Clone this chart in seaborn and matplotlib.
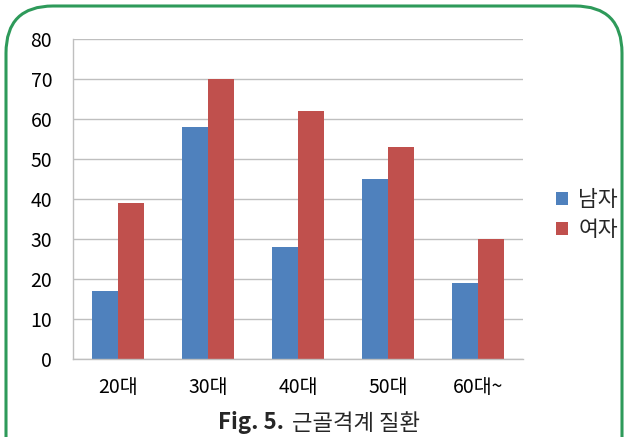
import matplotlib
matplotlib.use("Agg")
import matplotlib.pyplot as plt
import seaborn as sns
import pandas as pd
from matplotlib.patches import FancyBboxPatch

ages = ["20대", "30대", "40대", "50대", "60대~"]
male = [17, 58, 28, 45, 19]
female = [39, 70, 62, 53, 30]
series_names = ["남자", "여자"]
colors = ["#4F81BD", "#C0504D"]
yticks = [0, 10, 20, 30, 40, 50, 60, 70, 80]

df = pd.DataFrame({
    "age": ages * 2,
    "value": male + female,
    "sex": [series_names[0]] * len(ages) + [series_names[1]] * len(ages),
})

sns.set_theme(style="white")
plt.rcParams["font.family"] = ["Noto Sans CJK KR", "DejaVu Sans"]

W, H = 627, 437
fig = plt.figure(figsize=(W / 100, H / 100), dpi=100)
ax = fig.add_axes([73 / W, 1 - 359 / H, 450 / W, 320 / H])

sns.barplot(data=df, x="age", y="value", hue="sex", palette=colors,
            width=0.58, saturation=1, ax=ax, edgecolor="none")

ax.set_ylim(0, 80)
ax.set_yticks(yticks)
ax.set_xlim(-0.5, len(ages) - 0.5)
ax.yaxis.grid(True, color="#BFBFBF", linewidth=1)
ax.set_axisbelow(True)
ax.set_xlabel("")
ax.set_ylabel("")
for s in ["top", "right"]:
    ax.spines[s].set_visible(False)
for s in ["left", "bottom"]:
    ax.spines[s].set_color("#BFBFBF")
    ax.spines[s].set_linewidth(1)

# group separators along the category axis
ax.set_xticks([i - 0.5 for i in range(len(ages) + 1)], minor=True)
ax.tick_params(axis="x", which="minor", length=6, color="#BFBFBF", width=1)
ax.tick_params(axis="x", which="major", length=0, pad=13, labelsize=14, labelcolor="#000000")
ax.tick_params(axis="y", length=6, color="#BFBFBF", width=1, pad=9, labelsize=14, labelcolor="#000000")
ax.set_xticklabels(ages)

leg = ax.legend(loc="center left", bbox_to_anchor=(1.03, 0.45), frameon=False,
                fontsize=15.5, handlelength=0.55, handleheight=0.55, handletextpad=0.5,
                labelspacing=0.4)

# caption: bold figure number followed by the title
cap_y = 1 - 423 / H
fig.text(284 / W, cap_y, "Fig. 5.", ha="right", va="center", fontsize=16,
         fontweight="bold")
fig.text(292 / W, cap_y, "근골격계 질환", ha="left", va="center", fontsize=16)

# rounded green frame
frame = FancyBboxPatch((6 / W, -0.2), (616 / W), 1.2 - 6 / H,
                       boxstyle="round,pad=0,rounding_size=0.075",
                       transform=fig.transFigure, fill=False,
                       edgecolor="#2E9A5A", linewidth=2.2, mutation_aspect=W / H)
fig.patches.append(frame)

fig.savefig("out.png", dpi=100)
